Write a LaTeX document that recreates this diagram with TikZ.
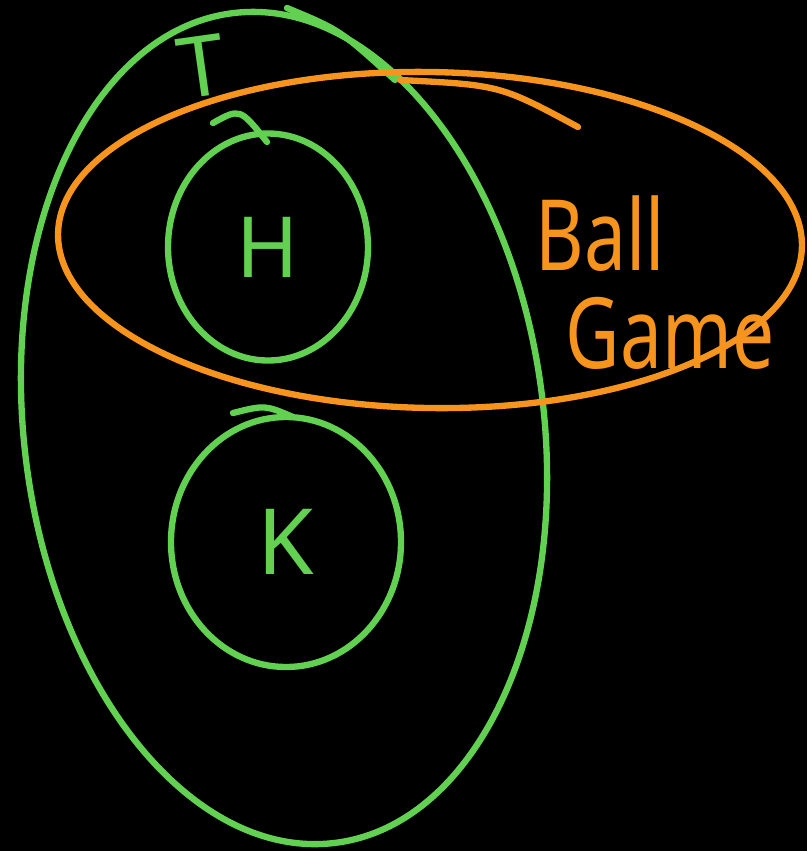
\documentclass[tikz,border=0pt]{standalone}
\usepackage{fontspec}
\setmainfont{Noto Sans}
\usepackage{graphicx}
\usepackage{tikz}
\usetikzlibrary{shapes.geometric}
\definecolor{setgreen}{HTML}{62D152}
\definecolor{setorange}{HTML}{F7941D}

\begin{document}
\begin{tikzpicture}[
  set/.style={draw=setgreen,line width=1.8pt,ellipse,inner sep=0pt},
  ballset/.style={draw=setorange,line width=1.8pt,ellipse,inner sep=0pt},
  lab/.style={text=setgreen,font=\fontsize{24}{28}\selectfont},
  stroke/.style={setgreen,line width=1.8pt,line cap=round},
]
\fill[black] (0,0) rectangle (8.07,-8.51);
\useasboundingbox (0,0) rectangle (8.07,-8.51);

% ---------- outer set T ----------
\node[set,minimum width=5.2cm,minimum height=8.36cm,rotate=7] (T) at (2.84,-4.28) {};
\node[lab,rotate=8] (Tlab) at (2.02,-0.66) {T};
\draw[stroke] (2.87,-0.08) .. controls (3.4,-0.3) .. (3.95,-0.8);

% ---------- inner sets H, K ----------
\node[set,minimum width=2.0cm,minimum height=2.27cm,lab] (H) at (2.68,-2.47) {H};
\draw[stroke] (2.13,-1.23) .. controls (2.4,-1.08) .. (2.67,-1.42);
\node[set,minimum width=2.3cm,minimum height=2.5cm,lab,
      font=\fontsize{26}{30}\selectfont] (K) at (2.86,-5.42) {K};
\draw[stroke] (2.33,-4.13) .. controls (2.65,-4.05) .. (2.93,-4.17);

% ---------- Ball Game ----------
\node[ballset,minimum width=7.44cm,minimum height=3.36cm,rotate=-1] (ball) at (4.3,-2.4) {};
\draw[setorange,line width=1.8pt,line cap=round]
  (4.0,-0.8) .. controls (5.0,-0.85) .. (5.78,-1.27);
\node[text=setorange,font=\fontsize{28}{28}\selectfont,align=left,
      anchor=north west,inner sep=0pt]
  (balllab) at (5.35,-1.95)
  {\scalebox{0.76}[1]{Ball}\\\hspace*{0.3cm}\scalebox{0.76}[1]{Game}};
\end{tikzpicture}
\end{document}
